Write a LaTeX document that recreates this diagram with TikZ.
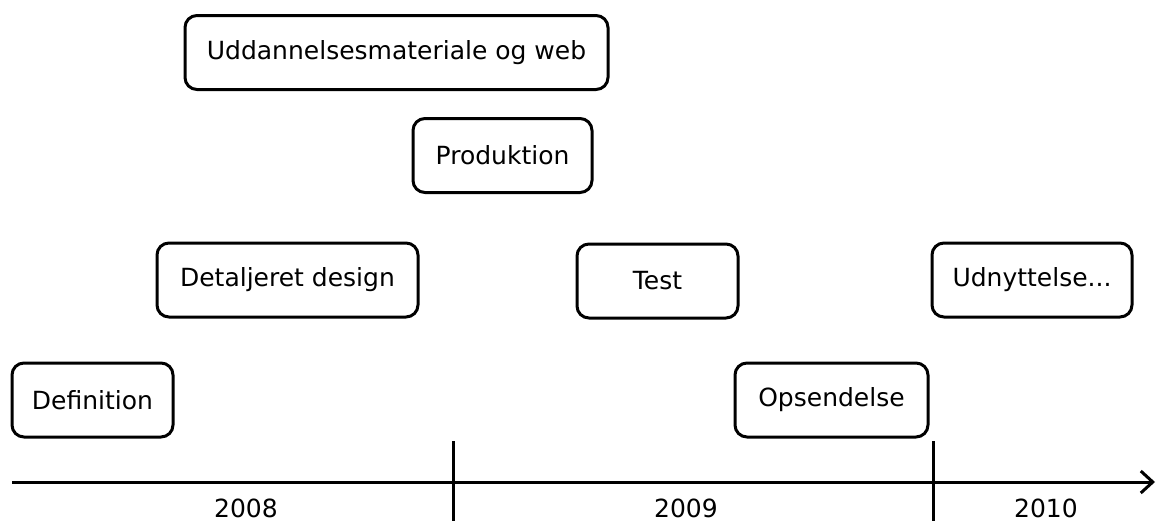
\documentclass[tikz,border=0pt]{standalone}
\usepackage{fontspec}
\setmainfont{DejaVu Sans}
\usepackage{tikz}
\usetikzlibrary{arrows.meta, positioning}

\tikzset{
	phase/.style={draw=black, line width=3pt, rounded corners=12pt,
		minimum height=74pt, inner sep=0pt, font=\fontsize{25}{30}\selectfont},
	year/.style={font=\fontsize{25}{30}\selectfont, anchor=base, inner sep=0pt},
	tick/.style={line width=3pt, -}
}

\begin{document}
\begin{tikzpicture}[x=1pt, y=-1pt,
			>={Straight Barb[length=12pt, width=22pt, line width=3pt]},
			thick]
			\useasboundingbox (0,0) rectangle (1157,522);

			% phases
			\node[phase, minimum width=423pt] (web) at (396.5,52.5) {Uddannelsesmateriale og web};
			\node[phase, minimum width=179pt] (prod) at (502.5,155.5) {Produktion};
			\node[phase, minimum width=261pt] (design) at (287.5,280) {Detaljeret design};
			\node[phase, minimum width=161pt] (test) at (657.5,281) {Test};
			\node[phase, minimum width=200pt] (udn) at (1032,280) {Udnyttelse...};
			\node[phase, minimum width=161pt] (def) at (92.5,400) {Definition};
			\node[phase, minimum width=193pt] (ops) at (831.5,400) {Opsendelse};

			% time axis
			\coordinate (start) at (12,482);
			\coordinate (end) at (1155,482);
			\draw[line width=3pt, ->] (start) -- (end);
			\coordinate (t1a) at (453,441);
			\coordinate (t1b) at (453,521);
			\coordinate (t2a) at (933,441);
			\coordinate (t2b) at (933,521);
			\draw[tick] (t1a) -- (t1b);
			\draw[tick] (t2a) -- (t2b);

			\node[year] (y2008) at (246,517) {2008};
			\node[year] (y2009) at (686,517) {2009};
			\node[year] (y2010) at (1046,517) {2010};
		\end{tikzpicture}
\end{document}
